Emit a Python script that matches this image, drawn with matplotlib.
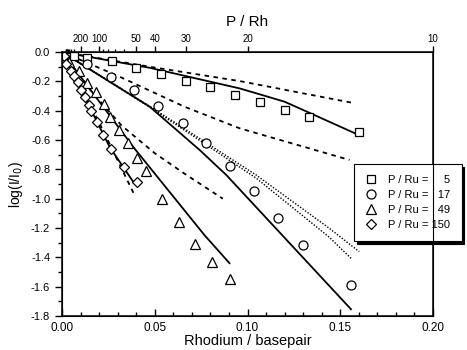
import matplotlib
matplotlib.use("Agg")
import matplotlib.pyplot as plt

plt.rcParams['font.family'] = ['Liberation Sans', 'DejaVu Sans']
plt.rcParams['axes.unicode_minus'] = False

# measured points (Rhodium / basepair, log(I/I0))
sq_x = [0.0067, 0.0133, 0.0267, 0.040, 0.0533, 0.0667, 0.080, 0.0933, 0.1067, 0.120, 0.1333, 0.160]
sq_y = [-0.025, -0.039, -0.061, -0.107, -0.152, -0.198, -0.237, -0.293, -0.343, -0.392, -0.441, -0.543]

circ_x = [0.0133, 0.0263, 0.039, 0.052, 0.065, 0.0774, 0.0903, 0.1034, 0.1165, 0.130, 0.1558]
circ_y = [-0.084, -0.173, -0.259, -0.366, -0.481, -0.623, -0.776, -0.950, -1.132, -1.314, -1.587]

tri_x = [0.004, 0.009, 0.0136, 0.0181, 0.0228, 0.0261, 0.0306, 0.0356, 0.0402, 0.0452,
         0.0539, 0.0631, 0.0719, 0.081, 0.0903]
tri_y = [-0.066, -0.132, -0.211, -0.275, -0.357, -0.441, -0.532, -0.618, -0.725, -0.811,
         -1.002, -1.159, -1.309, -1.43, -1.55]

diam_x = [0.001, 0.0023, 0.0047, 0.0065, 0.0086, 0.0101, 0.0122, 0.0145, 0.0158, 0.0187,
          0.0222, 0.0263, 0.0333, 0.0402]
diam_y = [-0.029, -0.082, -0.128, -0.166, -0.207, -0.257, -0.309, -0.359, -0.404, -0.475,
          -0.566, -0.663, -0.784, -0.884]

# model curves
sq_solid_x = [0, 0.047, 0.0957, 0.107, 0.12, 0.134, 0.16]
sq_solid_y = [0, -0.107, -0.248, -0.29, -0.339, -0.418, -0.566]
sq_dash_x = [0, 0.047, 0.0957, 0.158]
sq_dash_y = [0, -0.10, -0.198, -0.35]

circ_solid_x = [0, 0.0473, 0.0742, 0.0886, 0.1558]
circ_solid_y = [0, -0.373, -0.668, -0.839, -1.754]
circ_dash_x = [0, 0.031, 0.066, 0.0957, 0.155]
circ_dash_y = [0, -0.168, -0.373, -0.52, -0.736]
dot1_x = [0, 0.049, 0.1047, 0.1441, 0.1602]
dot1_y = [0, -0.384, -0.839, -1.202, -1.361]
dot2_x = [0, 0.049, 0.1047, 0.1441, 0.1558]
dot2_y = [0, -0.39, -0.86, -1.263, -1.407]

tri_solid_x = [0, 0.0392, 0.0769, 0.0903]
tri_solid_y = [0, -0.66, -1.25, -1.44]
tri_dash_x = [0, 0.016, 0.032, 0.05, 0.0661, 0.0867]
tri_dash_y = [0, -0.27, -0.50, -0.69, -0.83, -1.0]

diam_solid_x = [0, 0.0258, 0.0392]
diam_solid_y = [0, -0.65, -0.90]
diam_dash_x = [0, 0.02, 0.0385]
diam_dash_y = [0, -0.48, -0.96]

legend_labels = ['P / Ru =     5', 'P / Ru =   17', 'P / Ru =   49', 'P / Ru = 150']

top_major = [200, 100, 50, 40, 30, 20, 10]
top_minor = [1000, 900, 800, 700, 600, 500, 400, 300, 90, 80, 70, 60]

fig = plt.figure(figsize=(4.67, 3.5), dpi=100)
ax = fig.add_axes([0.1328, 0.0971, 0.7944, 0.7543])

lw = 1.3
ax.plot(sq_solid_x, sq_solid_y, color='black', lw=lw)
ax.plot(circ_solid_x, circ_solid_y, color='black', lw=lw)
ax.plot(tri_solid_x, tri_solid_y, color='black', lw=lw)
ax.plot(diam_solid_x, diam_solid_y, color='black', lw=lw)
for xs, ys in [(sq_dash_x, sq_dash_y), (circ_dash_x, circ_dash_y),
               (tri_dash_x, tri_dash_y), (diam_dash_x, diam_dash_y)]:
    ax.plot(xs, ys, color='black', lw=1.3, dashes=(2.5, 2.5))
ax.plot(dot1_x, dot1_y, color='black', lw=1.0, linestyle=(0, (1, 1.2)))
ax.plot(dot2_x, dot2_y, color='black', lw=1.0, linestyle=(0, (1, 1.2)))

mk = dict(linestyle='none', mfc='white', mec='black', mew=0.9, color='black')
ax.plot(sq_x, sq_y, marker='s', ms=6, label=legend_labels[0], **mk)
ax.plot(circ_x, circ_y, marker='o', ms=6.5, label=legend_labels[1], **mk)
ax.plot(tri_x, tri_y, marker='^', ms=7, label=legend_labels[2], **mk)
ax.plot(diam_x, diam_y, marker='D', ms=5.5, label=legend_labels[3], **mk)

ax.set_xlim(0, 0.2)
ax.set_ylim(-1.8, 0.0)
ax.set_xticks([0.00, 0.05, 0.10, 0.15, 0.20])
ax.set_xticklabels(['0.00', '0.05', '0.10', '0.15', '0.20'], fontsize=8.5)
ax.set_xticks([0.01 * i for i in range(21)], minor=True)
ax.set_yticks([-0.2 * i for i in range(10)])
ax.set_yticklabels(['0.0' if i == 0 else '-%.1f' % (0.2 * i) for i in range(10)], fontsize=8)
ax.set_yticks([-0.1 * i for i in range(19)], minor=True)
ax.tick_params(axis='y', which='major', direction='out', length=5, width=1, right=False)
ax.tick_params(axis='y', which='minor', direction='out', length=3, width=1, right=False)
ax.tick_params(axis='x', which='major', direction='in', length=5, width=1, top=False, pad=4)
ax.tick_params(axis='x', which='minor', direction='in', length=3, width=1, top=False)
for s in ax.spines.values():
    s.set_linewidth(1.1)

ax.set_xlabel('Rhodium / basepair', fontsize=10.5, labelpad=0)
ax.set_ylabel('log(I/I$_0$)', fontsize=10, labelpad=4)

# top axis: phosphate per rhodium
top = ax.twiny()
top.set_xlim(ax.get_xlim())
top.set_xticks([2.0 / p for p in top_major])
top.set_xticklabels([str(p) for p in top_major], fontsize=7)
top.set_xticks([2.0 / p for p in top_minor], minor=True)
top.tick_params(axis='x', which='major', direction='out', length=4, width=1, pad=1.5)
top.tick_params(axis='x', which='minor', direction='out', length=2.5, width=1)
top.set_xlabel('P / Rh', fontsize=11, labelpad=6)

leg = ax.legend(loc='upper left', bbox_to_anchor=(354 / 467, 1 - 164 / 350),
                bbox_transform=fig.transFigure, fontsize=8, frameon=True,
                fancybox=False, edgecolor='black', framealpha=1,
                shadow={'color': 'black', 'alpha': 1},
                handlelength=1.0, handletextpad=1.1, borderpad=1.0,
                labelspacing=0.45, borderaxespad=0)
leg.get_frame().set_linewidth(0.8)

fig.savefig('out.png', dpi=100)
